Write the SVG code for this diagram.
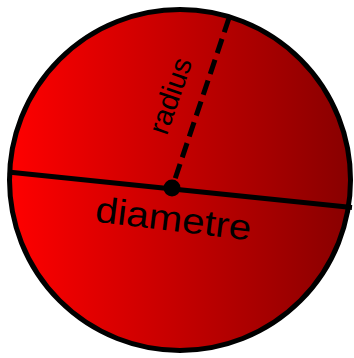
<svg xmlns="http://www.w3.org/2000/svg" width="354" height="358" viewBox="0 0 354 358">
  <defs>
    <linearGradient id="redGrad" x1="0" y1="0" x2="1" y2="0">
      <stop offset="0" stop-color="#ff0000"/>
      <stop offset="1" stop-color="#880000"/>
    </linearGradient>
  </defs>
  <style>
    .lbl { font-family: "Liberation Sans", Arial, sans-serif; fill: #000; }
    .edge { stroke: #000; fill: none; stroke-width: 5; }
  </style>
  <rect width="354" height="358" fill="#ffffff"/>
  <g id="circle">
    <circle cx="180" cy="180" r="170.5" fill="url(#redGrad)" stroke="#000" stroke-width="5"/>
  </g>
  <g id="connectors">
    <line class="edge" x1="8" y1="172" x2="352" y2="207.4"/>
    <line class="edge" x1="229" y1="18" x2="172" y2="188" stroke-dasharray="15,7"/>
  </g>
  <g id="center">
    <circle cx="172" cy="188" r="8.5" fill="#000"/>
  </g>
  <g id="radius-label">
    <text class="lbl" font-size="29" text-anchor="middle" transform="translate(179.5,99) rotate(-71)">radius</text>
  </g>
  <g id="diametre-label">
    <text class="lbl" font-size="36" text-anchor="middle" transform="translate(172,231) rotate(7) scale(1.12,1)">diametre</text>
  </g>
</svg>
